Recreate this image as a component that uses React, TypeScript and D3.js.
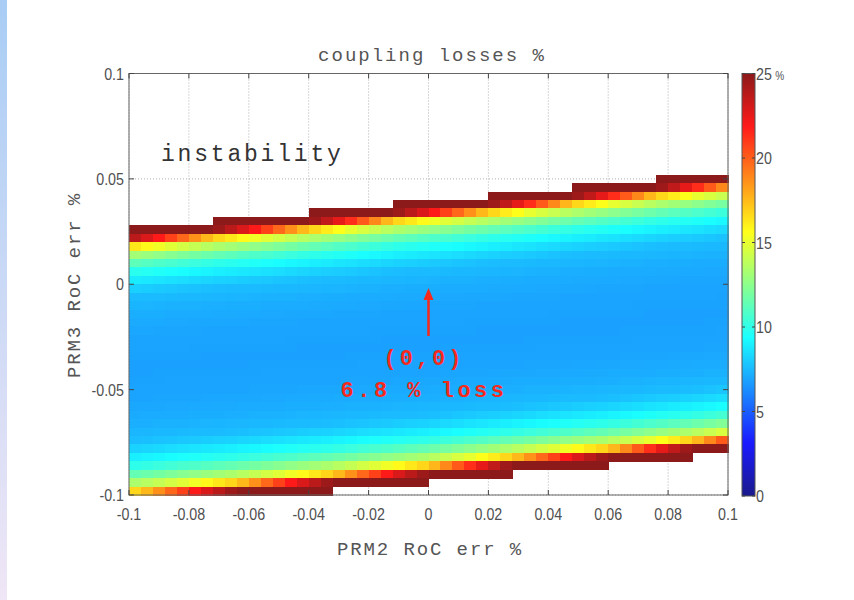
import { useEffect, useRef } from "react";
import * as d3 from "d3";

// axis ticks
const xTicks = [-0.1, -0.08, -0.06, -0.04, -0.02, 0, 0.02, 0.04, 0.06, 0.08, 0.1];
const yTicks = [-0.1, -0.05, 0, 0.05, 0.1];
const colorTicks = [0, 5, 10, 15, 20, 25];

// simulation grid (PRM2 x PRM3 samples)
const gridCols = 50;
const gridRows = 50;

// instability edges: column where the edge moves one row
const upperStepCols = [7, 15, 22, 30, 37, 44];
const upperFirstRows = [17, 16, 15, 14, 13, 12];
const lowerStepCols = [17, 25, 32, 40, 47];
const lowerLastRows = [48, 47, 46, 45, 44];

// coupling loss (%) vs distance (in rows) from the instability edge
const depthSteps = [0, 1, 1.3, 1.6, 2, 2.5, 3, 4, 5, 6, 7, 8, 10, 13, 17];
const lossAtDepth = [30, 25, 23, 20.5, 17, 15, 13.5, 11.5, 10, 9, 8.2, 7.6, 7.2, 6.9, 6.8];

function jet(t: number) {
  const c = (v: number) => Math.max(0, Math.min(1, v));
  const r = c(Math.min(4 * t - 1.5, -4 * t + 4.5));
  const g = c(Math.min(4 * t - 0.5, -4 * t + 3.5));
  const b = c(Math.min(4 * t + 0.5, -4 * t + 2.5));
  // the reference is a bit washed out
  const w = 0.1;
  const m = (v: number) => Math.round((v * (1 - w) + w) * 255);
  return `rgb(${m(r)},${m(g)},${m(b)})`;
}

const fmt = (v: number) => {
  const s = (+v.toFixed(2)).toString();
  return s === "-0" ? "0" : s;
};

export default function App() {
  const svgRef = useRef<SVGSVGElement>(null);

  useEffect(() => {
    document.body.style.margin = "0";
    const svg = d3.select(svgRef.current);
    svg.selectAll("*").remove();

    const left = 129, right = 728, top = 73.5, bottom = 495;
    const x = d3.scaleLinear().domain([-0.1, 0.1]).range([left, right]);
    const y = d3.scaleLinear().domain([-0.1, 0.1]).range([bottom, top]);
    const color = d3.scaleLinear().domain([0, 25]).range([0, 1]).clamp(true);

    const tickFont = "'Liberation Sans', Arial, sans-serif";
    const mono = "'Liberation Mono', 'DejaVu Sans Mono', monospace";
    const sx = 0.84; // narrow tick font

    // left decoration strip
    const defs = svg.append("defs");
    const sg = defs.append("linearGradient").attr("id", "strip").attr("x1", 0).attr("y1", 0).attr("x2", 0).attr("y2", 1);
    sg.append("stop").attr("offset", 0).attr("stop-color", "#a9cdf5");
    sg.append("stop").attr("offset", 1).attr("stop-color", "#efe6f6");
    svg.append("rect").attr("x", 0).attr("y", 0).attr("width", 7).attr("height", 600).attr("fill", "url(#strip)");

    // grid lines
    const grid = svg.append("g").attr("stroke", "#b0b0b0").attr("stroke-dasharray", "1,2").attr("stroke-width", 1);
    xTicks.forEach((t) => grid.append("line").attr("x1", x(t)).attr("x2", x(t)).attr("y1", top).attr("y2", bottom));
    yTicks.forEach((t) => grid.append("line").attr("x1", left).attr("x2", right).attr("y1", y(t)).attr("y2", y(t)));

    // edges as continuous lines (row units) through step points
    const upperEdge = d3.scaleLinear().domain(upperStepCols).range(upperFirstRows.map((r) => r + 0.5));
    const lowerEdge = d3.scaleLinear().domain(lowerStepCols).range(lowerLastRows.map((r) => r + 1.5));
    const loss = d3.scaleLinear().domain(depthSteps).range(lossAtDepth).clamp(true);

    const cellW = 0.2 / gridCols;
    const cellH = 0.2 / gridRows;
    const cells: { c: number; r: number; v: number }[] = [];
    for (let c = 0; c < gridCols; c++) {
      for (let r = 0; r < gridRows; r++) {
        const dTop = r + 0.5 - upperEdge(c + 0.5);
        const dBot = lowerEdge(c + 0.5) - (r + 0.5);
        if (dTop < 0 || dBot < 0) continue;
        cells.push({ c, r, v: loss(Math.min(dTop, dBot)) });
      }
    }
    svg
      .append("g")
      .attr("shape-rendering", "crispEdges")
      .selectAll("rect")
      .data(cells)
      .join("rect")
      .attr("x", (d) => x(-0.1 + d.c * cellW))
      .attr("y", (d) => y(0.1 - d.r * cellH))
      .attr("width", (d) => x(-0.1 + (d.c + 1) * cellW) - x(-0.1 + d.c * cellW) + 0.6)
      .attr("height", (d) => y(0.1 - (d.r + 1) * cellH) - y(0.1 - d.r * cellH) + 0.6)
      .attr("fill", (d) => jet(color(d.v)));

    // frame + ticks
    const ax = svg.append("g").attr("stroke", "#444").attr("stroke-width", 1).attr("fill", "none");
    ax.append("rect").attr("x", left).attr("y", top).attr("width", right - left).attr("height", bottom - top).attr("stroke", "#666");
    xTicks.forEach((t) => {
      ax.append("line").attr("x1", x(t)).attr("x2", x(t)).attr("y1", bottom).attr("y2", bottom - 5);
      ax.append("line").attr("x1", x(t)).attr("x2", x(t)).attr("y1", top).attr("y2", top + 5);
    });
    yTicks.forEach((t) => {
      ax.append("line").attr("x1", left).attr("x2", left + 5).attr("y1", y(t)).attr("y2", y(t));
      ax.append("line").attr("x1", right).attr("x2", right - 5).attr("y1", y(t)).attr("y2", y(t));
    });

    const labels = svg.append("g").attr("font-family", tickFont).attr("font-size", 17).attr("fill", "#505050");
    const label = (px: number, py: number, anchor: string, s: string) =>
      labels
        .append("text")
        .attr("transform", `translate(${px},${py}) scale(${sx},1)`)
        .attr("text-anchor", anchor)
        .text(s);
    xTicks.forEach((t) => label(x(t), bottom + 25, "middle", fmt(t)));
    yTicks.forEach((t) => label(left - 5, y(t) + 6, "end", fmt(t)));

    // colorbar
    const cbL = 742, cbR = 755;
    const cy = d3.scaleLinear().domain([0, 25]).range([bottom + 1, top]);
    const cg = defs.append("linearGradient").attr("id", "jet").attr("x1", 0).attr("y1", 1).attr("x2", 0).attr("y2", 0);
    d3.range(0, 1.0001, 0.025).forEach((t) => cg.append("stop").attr("offset", t).attr("stop-color", jet(t)));
    svg.append("rect").attr("x", cbL).attr("y", cy(25)).attr("width", cbR - cbL).attr("height", cy(0) - cy(25)).attr("fill", "url(#jet)").attr("stroke", "#555");
    colorTicks.forEach((t) => {
      svg.append("line").attr("x1", cbL).attr("x2", cbL + 3).attr("y1", cy(t)).attr("y2", cy(t)).attr("stroke", "#444");
      svg.append("line").attr("x1", cbR).attr("x2", cbR - 3).attr("y1", cy(t)).attr("y2", cy(t)).attr("stroke", "#444");
      const tx = label(cbR + 1, cy(t) + 6, "start", String(t));
      if (t === 25) tx.append("tspan").attr("font-size", 12).attr("dx", 4).text("%");
    });

    // titles
    const txt = svg.append("g").attr("font-family", mono).attr("fill", "#555");
    txt.append("text").attr("x", 432).attr("y", 61).attr("text-anchor", "middle").attr("font-size", 19).attr("letter-spacing", 2).text("coupling losses %");
    txt.append("text").attr("x", 430).attr("y", 555).attr("text-anchor", "middle").attr("font-size", 19).attr("letter-spacing", 1.9).text("PRM2 RoC err %");
    txt.append("text").attr("transform", "translate(80,285) rotate(-90)").attr("text-anchor", "middle").attr("font-size", 19).attr("letter-spacing", 1.9).text("PRM3 RoC err %");
    svg.append("text").attr("x", 161).attr("y", 161).attr("font-family", mono).attr("font-size", 23).attr("letter-spacing", 2.8).attr("fill", "#333").text("instability");

    // annotation
    const red = "#f52a1c";
    svg.append("line").attr("x1", x(0)).attr("x2", x(0)).attr("y1", 336).attr("y2", 298).attr("stroke", red).attr("stroke-width", 2.5);
    svg.append("path").attr("d", `M${x(0)},288 L${x(0) - 5},300 L${x(0) + 5},300 Z`).attr("fill", red);
    const ann = svg.append("g").attr("font-family", mono).attr("font-weight", "bold").attr("fill", red).attr("font-size", 22).attr("text-anchor", "middle");
    ann.append("text").attr("x", 424).attr("y", 365).attr("letter-spacing", 3).text("(0,0)");
    ann.append("text").attr("x", 424).attr("y", 397).attr("letter-spacing", 3.5).text("6.8 % loss");
  }, []);

  return <svg ref={svgRef} width={854} height={600} style={{ display: "block", background: "#fff" }} />;
}
